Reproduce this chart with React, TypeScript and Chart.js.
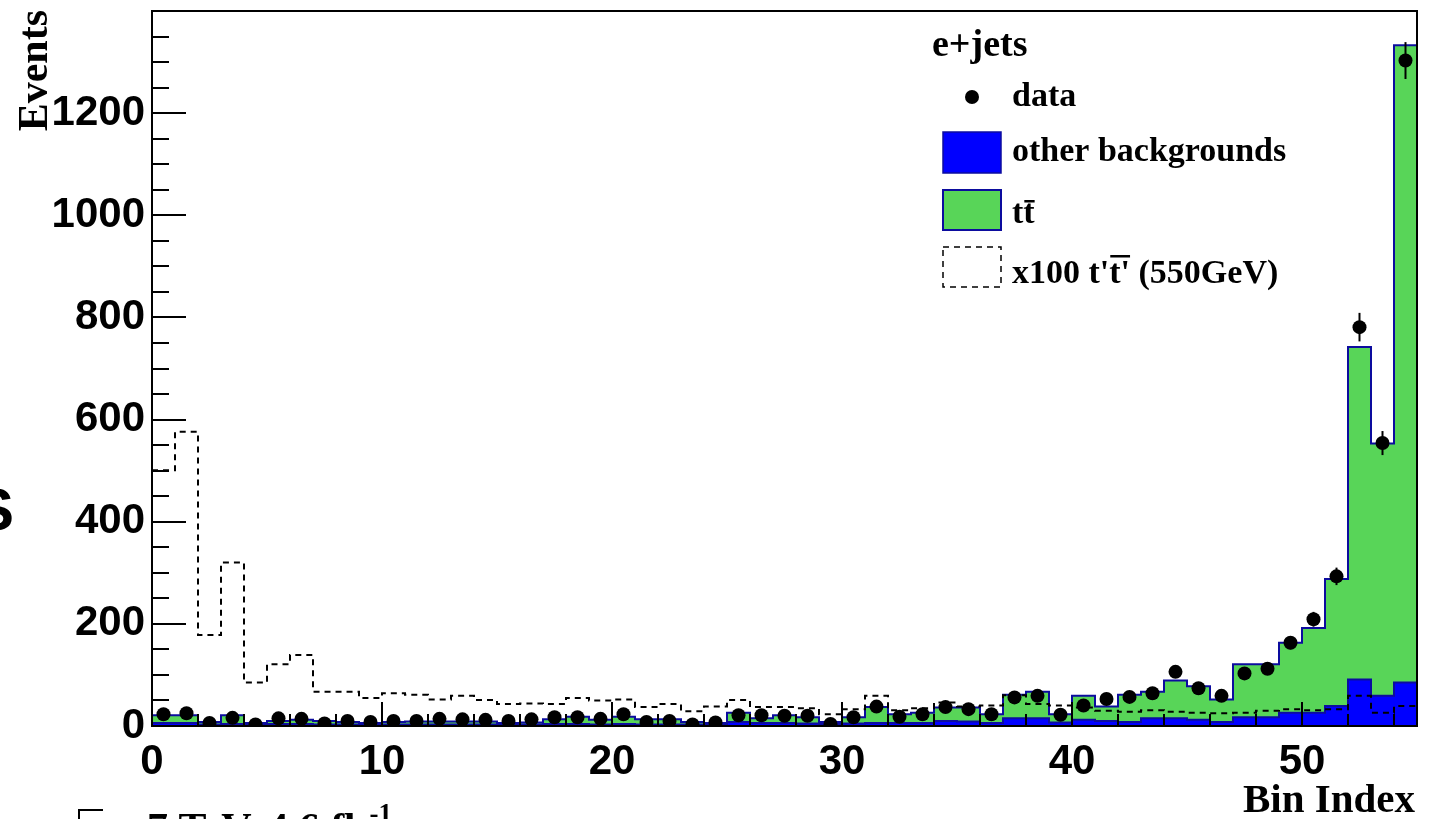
import React, { useEffect, useRef } from 'react';
import { Chart, registerables } from 'chart.js';

Chart.register(...registerables);

// ---- data (55 bins, bin index 0..54) ----
const dataCounts = [
  23, 25, 6, 16, 3, 15, 14, 5, 10, 8,
  10, 10, 14, 13, 12, 10, 13, 17, 17, 14,
  23, 8, 10, 3, 7, 21, 21, 20, 20, 4,
  17, 38, 18, 23, 37, 33, 23, 56, 59, 22,
  40, 53, 57, 64, 106, 74, 59, 103, 112, 163,
  209, 293, 781, 554, 1303,
];
const otherBkg = [
  6, 6, 3, 4, 3, 4, 4, 3, 3, 3,
  3, 3, 3, 3, 3, 3, 3, 4, 4, 3,
  4, 3, 3, 3, 3, 8, 6, 6, 5, 4,
  5, 6, 6, 6, 10, 9, 6, 15, 15, 7,
  12, 10, 8, 15, 15, 12, 8, 17, 17, 26,
  26, 39, 91, 59, 85,
];
const ttbar = [
  15, 15, 5, 17, 3, 6, 8, 7, 5, 3,
  5, 6, 6, 6, 6, 3, 4, 9, 14, 9,
  14, 10, 10, 5, 3, 18, 9, 15, 12, 4,
  12, 31, 17, 20, 26, 27, 17, 46, 52, 16,
  47, 28, 53, 52, 74, 66, 44, 104, 104, 137,
  166, 249, 651, 494, 1248,
];
const signalX100 = [
  501, 576, 178, 320, 85, 121, 139, 67, 67, 55,
  64, 61, 52, 59, 51, 43, 44, 43, 55, 50,
  52, 37, 43, 29, 38, 51, 37, 37, 35, 23,
  33, 59, 31, 35, 46, 38, 40, 60, 43, 40,
  36, 30, 28, 31, 28, 26, 25, 26, 30, 33,
  31, 33, 59, 26, 39,
];
const xMajorTicks = [0, 10, 20, 30, 40, 50];
const yMajorTicks = [0, 200, 400, 600, 800, 1000, 1200];
const xMax = 55;
const yMax = 1400;
const xMinorStep = 2;
const yMinorStep = 50;

const legendTitle = 'e+jets';
const legendLabels = ['data', 'other backgrounds', 'tt', "x100 t't' (550GeV)"];

const GREEN = '#58d558';
const BLUE = '#0000ff';
const DARKBLUE = '#0c0c9e';
const SERIF = '"Liberation Serif", "Times New Roman", serif';
const SANS = '"Liberation Sans", Arial, sans-serif';

const stepPoints = (vals: number[]) => [
  ...vals.map((v, i) => ({ x: i, y: v })),
  { x: vals.length, y: vals[vals.length - 1] },
];

const decorPlugin = {
  id: 'rootDecor',
  afterDraw(chart: any) {
    const { ctx, chartArea: a, scales } = chart;
    const xs = scales.x;
    const ys = scales.y;
    ctx.save();

    // error bars on data
    ctx.strokeStyle = '#000';
    ctx.lineWidth = 2;
    dataCounts.forEach((v, i) => {
      const e = Math.sqrt(v);
      const px = xs.getPixelForValue(i + 0.5);
      ctx.beginPath();
      ctx.moveTo(px, ys.getPixelForValue(v - e));
      ctx.lineTo(px, ys.getPixelForValue(v + e));
      ctx.stroke();
    });

    // inward ticks
    ctx.lineWidth = 2;
    for (let v = 0; v <= yMax; v += yMinorStep) {
      const py = Math.round(ys.getPixelForValue(v));
      const len = v % 200 === 0 ? 34 : 17;
      ctx.beginPath();
      ctx.moveTo(a.left, py);
      ctx.lineTo(a.left + len, py);
      ctx.stroke();
    }
    for (let v = 0; v <= xMax; v += xMinorStep) {
      const px = Math.round(xs.getPixelForValue(v));
      const len = v % 10 === 0 ? 24 : 12;
      ctx.beginPath();
      ctx.moveTo(px, a.bottom);
      ctx.lineTo(px, a.bottom - len);
      ctx.stroke();
    }

    // frame
    ctx.lineWidth = 2;
    ctx.strokeRect(a.left, a.top, a.right - a.left, a.bottom - a.top);

    // axis titles
    ctx.fillStyle = '#000';
    ctx.font = `bold 42px ${SERIF}`;
    ctx.save();
    ctx.translate(47, 10);
    ctx.rotate(-Math.PI / 2);
    ctx.textAlign = 'right';
    ctx.textBaseline = 'alphabetic';
    ctx.fillText('Events', 0, 0);
    ctx.restore();

    ctx.font = `bold 41px ${SERIF}`;
    ctx.textAlign = 'right';
    ctx.textBaseline = 'alphabetic';
    ctx.fillText('Bin Index', 1415, 812);

    // legend
    ctx.textAlign = 'left';
    ctx.font = `bold 38px ${SERIF}`;
    ctx.fillText(legendTitle, 932, 56);

    ctx.font = `bold 34px ${SERIF}`;
    // data
    ctx.beginPath();
    ctx.arc(972, 97, 7, 0, Math.PI * 2);
    ctx.fill();
    ctx.fillText(legendLabels[0], 1012, 106);
    // other backgrounds
    ctx.fillStyle = BLUE;
    ctx.fillRect(943, 132, 58, 41);
    ctx.strokeStyle = DARKBLUE;
    ctx.lineWidth = 1.5;
    ctx.strokeRect(943, 132, 58, 41);
    ctx.fillStyle = '#000';
    ctx.fillText(legendLabels[1], 1012, 161);
    // ttbar
    ctx.fillStyle = GREEN;
    ctx.fillRect(943, 190, 58, 40);
    ctx.strokeStyle = DARKBLUE;
    ctx.lineWidth = 2;
    ctx.strokeRect(943, 190, 58, 40);
    ctx.fillStyle = '#000';
    ctx.fillText(legendLabels[2], 1012, 223);
    const wt = ctx.measureText('t').width;
    ctx.fillRect(1012 + wt + 1, 200, wt - 1, 2.5);
    // signal
    ctx.strokeStyle = '#000';
    ctx.lineWidth = 1.5;
    ctx.setLineDash([6, 5]);
    ctx.strokeRect(943, 247, 58, 40);
    ctx.setLineDash([]);
    const p1 = "x100 t'";
    const p2 = "t'";
    const p3 = ' (550GeV)';
    let tx = 1012;
    ctx.fillText(p1, tx, 283);
    tx += ctx.measureText(p1).width;
    ctx.fillText(p2, tx, 283);
    const w2 = ctx.measureText(p2).width;
    ctx.fillRect(tx + 1, 255, w2 - 1, 2.5);
    tx += w2;
    ctx.fillText(p3, tx, 283);

    // partially visible energy / luminosity label at bottom-left
    ctx.lineWidth = 2;
    ctx.beginPath();
    ctx.moveTo(79, 819);
    ctx.lineTo(79, 810);
    ctx.lineTo(103, 810);
    ctx.stroke();
    ctx.font = `bold 42px ${SERIF}`;
    ctx.fillText('s =', 84, 842);
    ctx.fillText('7 TeV, 4.6 fb', 147, 842);
    const wl = ctx.measureText('7 TeV, 4.6 fb').width;
    ctx.font = `bold 27px ${SERIF}`;
    ctx.fillText('-1', 147 + wl + 2, 822);

    // partially visible glyph at the left edge
    ctx.font = `bold 60px ${SANS}`;
    ctx.textAlign = 'right';
    ctx.fillText('S', 14, 530);

    ctx.restore();
  },
};

export default function App() {
  const ref = useRef<HTMLCanvasElement | null>(null);

  useEffect(() => {
    if (!ref.current) return;
    const total = otherBkg.map((v, i) => v + ttbar[i]);
    const chart = new Chart(ref.current, {
      type: 'line',
      data: {
        datasets: [
          {
            type: 'scatter',
            label: 'data',
            data: dataCounts.map((v, i) => ({ x: i + 0.5, y: v })),
            pointRadius: 7,
            pointBackgroundColor: '#000',
            pointBorderWidth: 0,
            showLine: false,
          } as any,
          {
            label: 'signal',
            data: stepPoints(signalX100),
            stepped: 'before',
            borderColor: '#000',
            borderWidth: 2,
            borderDash: [6, 5],
            pointRadius: 0,
            fill: false,
          },
          {
            label: 'ttbar',
            data: stepPoints(total),
            stepped: 'before',
            borderColor: DARKBLUE,
            borderWidth: 2,
            backgroundColor: GREEN,
            pointRadius: 0,
            fill: 3,
          },
          {
            label: 'other',
            data: stepPoints(otherBkg),
            stepped: 'before',
            borderColor: DARKBLUE,
            borderWidth: 2,
            backgroundColor: BLUE,
            pointRadius: 0,
            fill: 'origin',
          },
        ],
      },
      options: {
        animation: false,
        responsive: true,
        maintainAspectRatio: false,
        events: [],
        layout: { padding: { top: 11, right: 19, left: 0, bottom: 0 } },
        elements: { line: { tension: 0 } },
        plugins: {
          legend: { display: false },
          tooltip: { enabled: false },
          filler: { drawTime: 'beforeDatasetsDraw' },
        } as any,
        scales: {
          x: {
            type: 'linear',
            min: 0,
            max: xMax,
            grid: { display: false, drawTicks: false },
            border: { display: false },
            ticks: {
              stepSize: 10,
              autoSkip: false,
              maxRotation: 0,
              padding: 11,
              color: '#000',
              font: { family: SANS, size: 42, weight: 'bold' },
              callback: (v: any) => (xMajorTicks.includes(Number(v)) ? String(v) : null),
            },
            afterFit: (s: any) => {
              s.height = 93;
              s.paddingLeft = 0;
              s.paddingRight = 0;
            },
          },
          y: {
            type: 'linear',
            min: 0,
            max: yMax,
            grid: { display: false, drawTicks: false },
            border: { display: false },
            ticks: {
              stepSize: 200,
              padding: 7,
              color: '#000',
              font: { family: SANS, size: 42, weight: 'bold' },
              callback: (v: any) => (yMajorTicks.includes(Number(v)) ? String(v) : null),
            },
            afterFit: (s: any) => {
              s.width = 152;
              s.paddingTop = 0;
              s.paddingBottom = 0;
            },
          },
        },
      },
      plugins: [decorPlugin],
    });
    return () => chart.destroy();
  }, []);

  return (
    <div style={{ position: 'fixed', left: 0, top: 0, width: '1436px', height: '819px', background: '#fff' }}>
      <canvas ref={ref} />
    </div>
  );
}
